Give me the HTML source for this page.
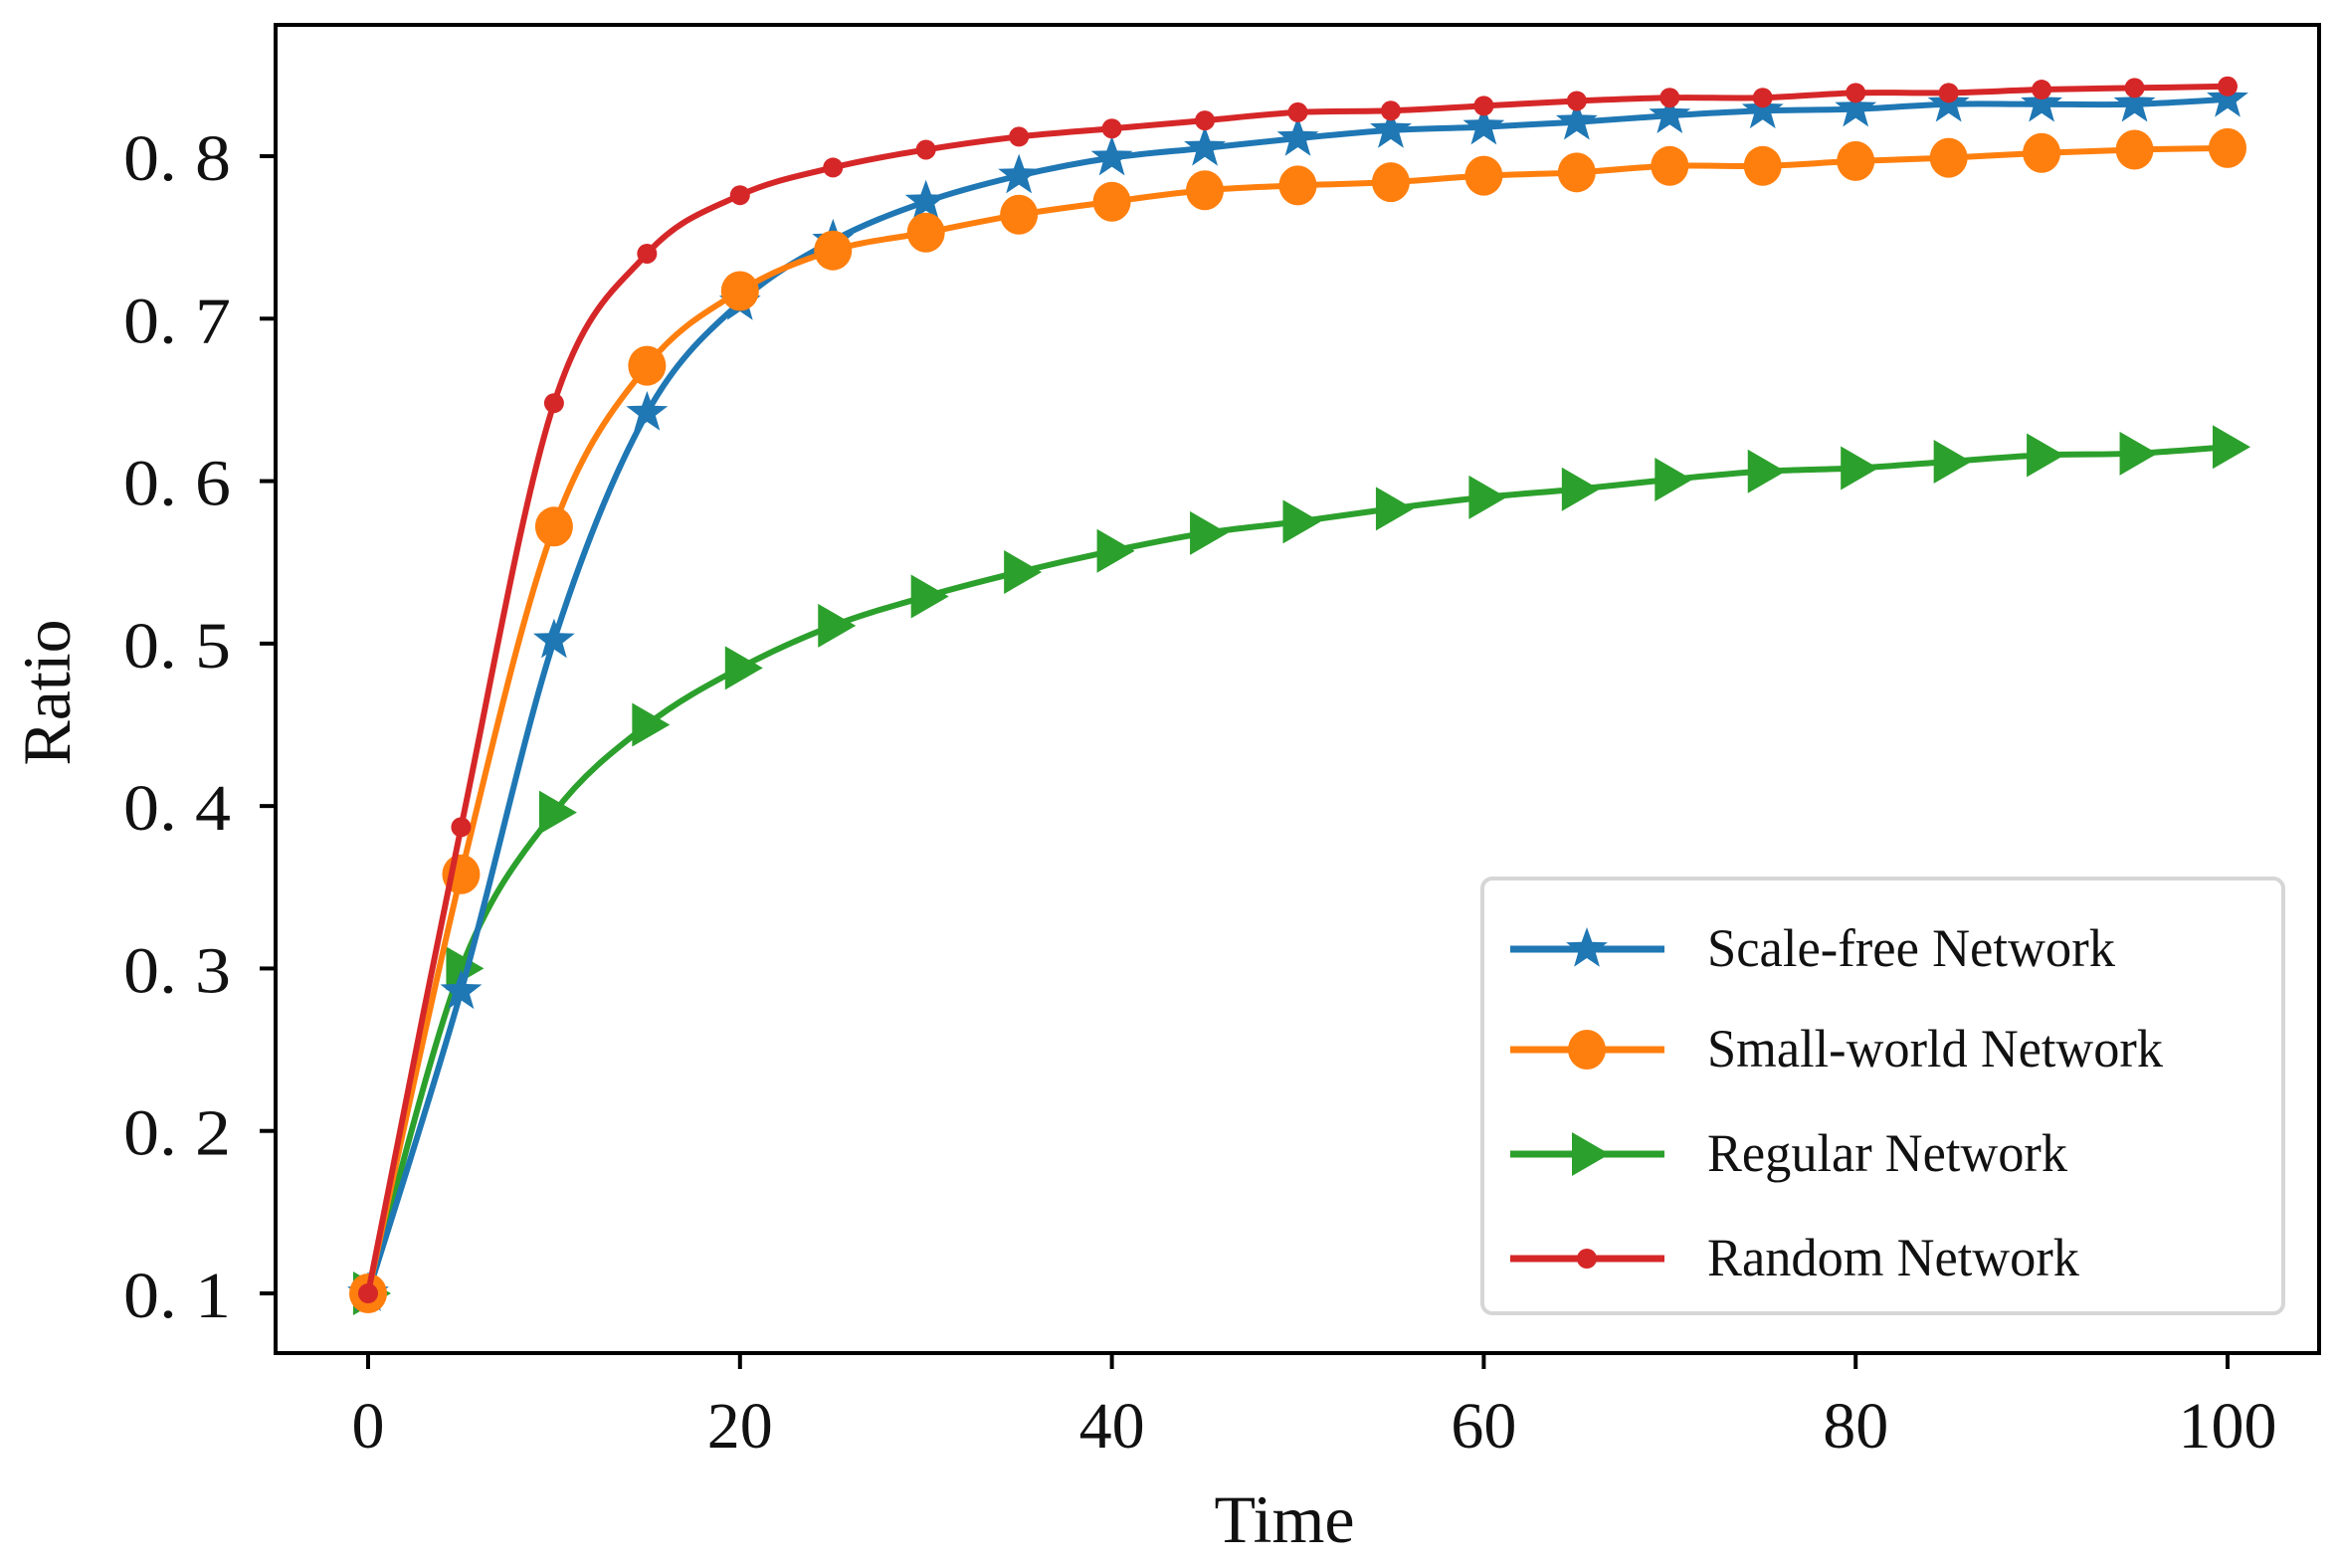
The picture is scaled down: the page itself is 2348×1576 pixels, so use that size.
<!DOCTYPE html>
<html><head><meta charset="utf-8"><style>
html,body{margin:0;padding:0;background:#fff;}
svg{display:block;}
text{font-family:"Liberation Serif",serif;fill:#111;}
</style></head><body>
<svg id="chart" width="2348" height="1576" viewBox="0 0 2348 1576" xmlns="http://www.w3.org/2000/svg">
<rect x="0" y="0" width="2348" height="1576" fill="#fff"/>
<g id="plot"></g>
<rect x="277" y="25" width="2054" height="1335" fill="none" stroke="#000" stroke-width="4"/>
<g id="axes"></g>
<text x="1291" y="1550" font-size="68" text-anchor="middle">Time</text>
<text x="0" y="0" font-size="68" text-anchor="middle" transform="translate(70,696) rotate(-90)">Ratio</text>
<g>
<rect x="1490" y="883" width="805" height="437" rx="10" fill="#fff" stroke="#d6d6d6" stroke-width="4"/>
<g id="legend"></g>
</g>
</svg>
<script>
const xs = [0,5,10,15,20,25,30,35,40,45,50,55,60,65,70,75,80,85,90,95,100];
const scaleFree = [0.1,0.286,0.502,0.642,0.710,0.748,0.772,0.788,0.799,0.805,0.811,0.816,0.818,0.821,0.825,0.828,0.829,0.832,0.832,0.832,0.835];
const smallWorld = [0.1,0.358,0.572,0.671,0.717,0.742,0.753,0.764,0.772,0.779,0.782,0.784,0.788,0.790,0.794,0.794,0.797,0.799,0.802,0.804,0.805];
const regular = [0.1,0.300,0.396,0.450,0.485,0.511,0.529,0.544,0.557,0.568,0.575,0.583,0.590,0.595,0.601,0.606,0.608,0.612,0.616,0.617,0.621];
const randomNet = [0.1,0.387,0.648,0.740,0.776,0.793,0.804,0.812,0.817,0.822,0.827,0.828,0.831,0.834,0.836,0.836,0.839,0.839,0.841,0.842,0.843];
const xTicks = [0,20,40,60,80,100];
const yTicks = [0.1,0.2,0.3,0.4,0.5,0.6,0.7,0.8];
const yTickLabels = ["0. 1","0. 2","0. 3","0. 4","0. 5","0. 6","0. 7","0. 8"];
const seriesNames = ["Scale-free Network","Small-world Network","Regular Network","Random Network"];

const NS="http://www.w3.org/2000/svg";
function X(v){return 370+(v-0)*(2239-370)/100;}
function Y(v){return 1300-(v-0.1)*(1300-157)/0.7;}
function mk(tag,attrs,parent){const e=document.createElementNS(NS,tag);for(const k in attrs)e.setAttribute(k,attrs[k]);parent.appendChild(e);return e;}
const plot=document.getElementById('plot'),axes=document.getElementById('axes'),leg=document.getElementById('legend');

xTicks.forEach((t)=>{
  const l=mk('line',{x1:X(t),x2:X(t),y1:1360,y2:1376,stroke:'#000','stroke-width':4},axes);
  
  
  const tx=mk('text',{x:X(t),y:1455,'font-size':66,'text-anchor':'middle'},axes);
  tx.textContent=String(t);
  
  
});
yTicks.forEach((t,i)=>{
  const l=mk('line',{x1:261,x2:277,y1:Y(t),y2:Y(t),stroke:'#000','stroke-width':4},axes);
  
  
  const tx=mk('text',{x:232,y:Y(t)+24,'font-size':66,'text-anchor':'end',textLength:108,lengthAdjust:'spacingAndGlyphs'},axes);
  tx.textContent=yTickLabels[i];
  
  
});

function smoothPath(pts){
  let d='M'+pts[0][0]+','+pts[0][1];
  for(let i=0;i<pts.length-1;i++){
    const p0=pts[i-1]||pts[i],p1=pts[i],p2=pts[i+1],p3=pts[i+2]||p2;
    const c1=[p1[0]+(p2[0]-p0[0])/6,p1[1]+(p2[1]-p0[1])/6];
    const c2=[p2[0]-(p3[0]-p1[0])/6,p2[1]-(p3[1]-p1[1])/6];
    d+=' C'+c1[0]+','+c1[1]+' '+c2[0]+','+c2[1]+' '+p2[0]+','+p2[1];
  }
  return d;
}
function star(cx,cy,R,r){let p=[];for(let i=0;i<10;i++){const a=-Math.PI/2+i*Math.PI/5,rr=i%2?r:R;p.push((cx+rr*Math.cos(a)).toFixed(1)+','+(cy+rr*Math.sin(a)).toFixed(1));}return p.join(' ');}
function marker(kind,cx,cy,color,g){
  let e;
  if(kind==='star') e=mk('polygon',{points:star(cx,cy,22,9),fill:color},g);
  else if(kind==='circle') e=mk('ellipse',{cx:cx,cy:cy,rx:19,ry:20,fill:color},g);
  else if(kind==='tri') e=mk('polygon',{points:(cx-15)+','+(cy-22)+' '+(cx+23)+','+cy+' '+(cx-15)+','+(cy+22),fill:color},g);
  else e=mk('circle',{cx:cx,cy:cy,r:10,fill:color},g);
  return e;
}
const series=[
  {vals:scaleFree,color:'#1f77b4',kind:'star',name:'scale-free'},
  {vals:smallWorld,color:'#ff7f0e',kind:'circle',name:'small-world'},
  {vals:regular,color:'#2ca02c',kind:'tri',name:'regular'},
  {vals:randomNet,color:'#d62728',kind:'dot',name:'random'}
];
const order=[2,0,1,3];
order.forEach(si=>{
  const s=series[si];
  const g=mk('g',{},plot);
  
  
  const pts=xs.map((x,i)=>[X(x),Y(s.vals[i])]);
  const p=mk('path',{d:smoothPath(pts),fill:'none',stroke:s.color,'stroke-width':6,'stroke-linejoin':'round'},g);
  
  
  pts.forEach(pt=>{
    const m=marker(s.kind,pt[0],pt[1],s.color,g);
    
    
  });
});
const legY=[954,1055,1160,1265];
const legTextLen=[410,458,362,374];
series.forEach((s,i)=>{
  const g=mk('g',{},leg);
  
  
  mk('line',{x1:1518,x2:1673,y1:legY[i],y2:legY[i],stroke:s.color,'stroke-width':7},g);
  marker(s.kind,1595,legY[i],s.color,g);
  const t=mk('text',{x:1716,y:legY[i]+17,'font-size':54,textLength:legTextLen[i],lengthAdjust:'spacingAndGlyphs'},g);
  t.textContent=seriesNames[i];
});
</script>
</body></html>
